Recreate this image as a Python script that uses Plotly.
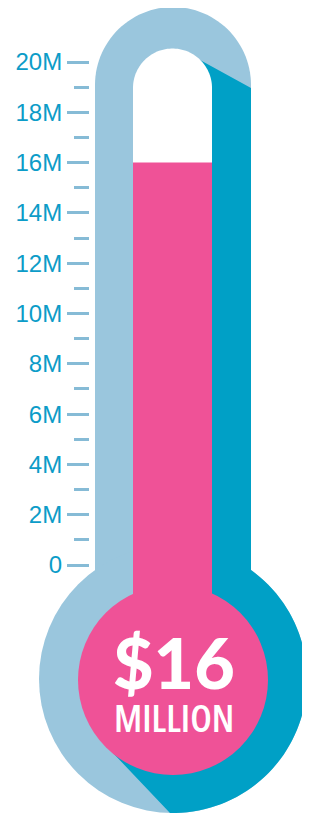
import numpy as np
import plotly.graph_objects as go

# ---------------- data ----------------
tick_values = [0, 2, 4, 6, 8, 10, 12, 14, 16, 18, 20]          # millions
tick_labels = ["0", "2M", "4M", "6M", "8M", "10M", "12M", "14M", "16M", "18M", "20M"]
minor_tick_values = [1, 3, 5, 7, 9, 11, 13, 15, 17, 19]
raised_millions = [16]
headline_amount = ["$16"]
headline_unit = ["MILLION"]

# ---------------- styling / layout geometry (figure pixels) ----------------
W, H = 310, 815
Y0_PX, YTOP_PX = 557, 54          # pixel rows of 0 and of the top tick
PPM = (Y0_PX - YTOP_PX) / max(tick_values)   # pixels per million

LIGHT = "#9AC6DD"
DARK = "#00A0C6"
PINK = "#EF5297"
TICK = "#86BBD6"
LABEL = "#0C9CC8"

CX = 165
TUBE_OUT_L, TUBE_OUT_R, TUBE_TOP_CY = 87, 243, 77
TUBE_IN_L, TUBE_IN_R, TUBE_IN_CY = 125, 204, 80
BULB_CY, BULB_R = 671, 134
PINK_CY, PINK_R = 672, 95


def arc(cx, cy, r, a0, a1, n=60):
    t = np.radians(np.linspace(a0, a1, n))
    return list(zip(cx + r * np.cos(t), cy + r * np.sin(t)))


def path(pts):
    return "M " + " L ".join(f"{x:.2f},{y:.2f}" for x, y in pts) + " Z"


r_out = (TUBE_OUT_R - TUBE_OUT_L) / 2
c_out = (TUBE_OUT_R + TUBE_OUT_L) / 2
outer_tube = [(TUBE_OUT_L, 592)] + arc(c_out, TUBE_TOP_CY, r_out, 180, 360) + [(TUBE_OUT_R, 592)]

yj = BULB_CY - np.sqrt(BULB_R**2 - (TUBE_OUT_R - CX) ** 2)
a_start = np.degrees(np.arctan2(yj - BULB_CY, TUBE_OUT_R - CX))
a_end = np.degrees(np.arctan2(805 - BULB_CY, 162 - CX))
dark = ([(192, 52), (TUBE_OUT_R, TUBE_TOP_CY + 3), (TUBE_OUT_R, yj)]
        + arc(CX, BULB_CY, BULB_R, a_start, a_end)
        + [(105, 745), (CX, PINK_CY), (CX, TUBE_IN_CY + 20), (164.5, TUBE_IN_CY)])

r_in = (TUBE_IN_R - TUBE_IN_L) / 2
c_in = (TUBE_IN_R + TUBE_IN_L) / 2
inner = [(TUBE_IN_L, 512)] + arc(c_in, TUBE_IN_CY, r_in, 180, 360) + [(TUBE_IN_R, 512)]

shapes = [
    dict(type="path", path=path(outer_tube), fillcolor=LIGHT, line=dict(width=0)),
    dict(type="circle", x0=CX - BULB_R, x1=CX + BULB_R, y0=BULB_CY - BULB_R, y1=BULB_CY + BULB_R,
         fillcolor=LIGHT, line=dict(width=0)),
    dict(type="path", path=path(dark), fillcolor=DARK, line=dict(width=0)),
    dict(type="path", path=path(inner), fillcolor="white", line=dict(width=0)),
    dict(type="circle", x0=CX - PINK_R, x1=CX + PINK_R, y0=PINK_CY - PINK_R, y1=PINK_CY + PINK_R,
         fillcolor=PINK, line=dict(width=0)),
]
for s in shapes:
    s.update(xref="x", yref="y2", layer="below")


def px_to_m(py):
    return (Y0_PX - py) / PPM


base = px_to_m(PINK_CY)

fig = go.Figure()
fig.add_trace(go.Bar(
    x=[c_in], y=[v - base for v in raised_millions], base=[base],
    width=TUBE_IN_R - TUBE_IN_L, marker=dict(color=PINK, line=dict(width=0)),
    hoverinfo="skip", showlegend=False,
))

fig.update_layout(
    width=W, height=H, margin=dict(l=0, r=0, t=0, b=0),
    paper_bgcolor="white", plot_bgcolor="white",
    shapes=shapes,
    showlegend=False,
    xaxis=dict(range=[0, W], visible=False, fixedrange=True),
    yaxis=dict(
        range=[px_to_m(H), px_to_m(0)], anchor="free", position=81 / W, side="left",
        tickmode="array", tickvals=tick_values, ticktext=tick_labels,
        ticks="outside", ticklen=22, tickwidth=3, tickcolor=TICK,
        showline=False, showgrid=False, zeroline=False,
        tickfont=dict(family="Liberation Sans, Arial, sans-serif", size=24, color=LABEL),
        minor=dict(tickmode="array", tickvals=minor_tick_values, ticks="outside",
                   ticklen=15, tickwidth=3, tickcolor=TICK, showgrid=False),
        fixedrange=True,
    ),
    yaxis2=dict(range=[H, 0], overlaying="y", visible=False, fixedrange=True),
    annotations=[
        dict(x=CX + 1, y=654, xref="x", yref="y2", text=headline_amount[0], showarrow=False,
             font=dict(family="Lato, Inter, sans-serif", size=70, color="white", weight=900)),
        dict(x=CX + 1, y=709, xref="x", yref="y2",
             text='<span style="font-stretch:75%">' + headline_unit[0] + "</span>",
             showarrow=False,
             font=dict(family="Open Sans, sans-serif", size=38, color="white", weight=600)),
    ],
)

fig.write_html("out.html")
